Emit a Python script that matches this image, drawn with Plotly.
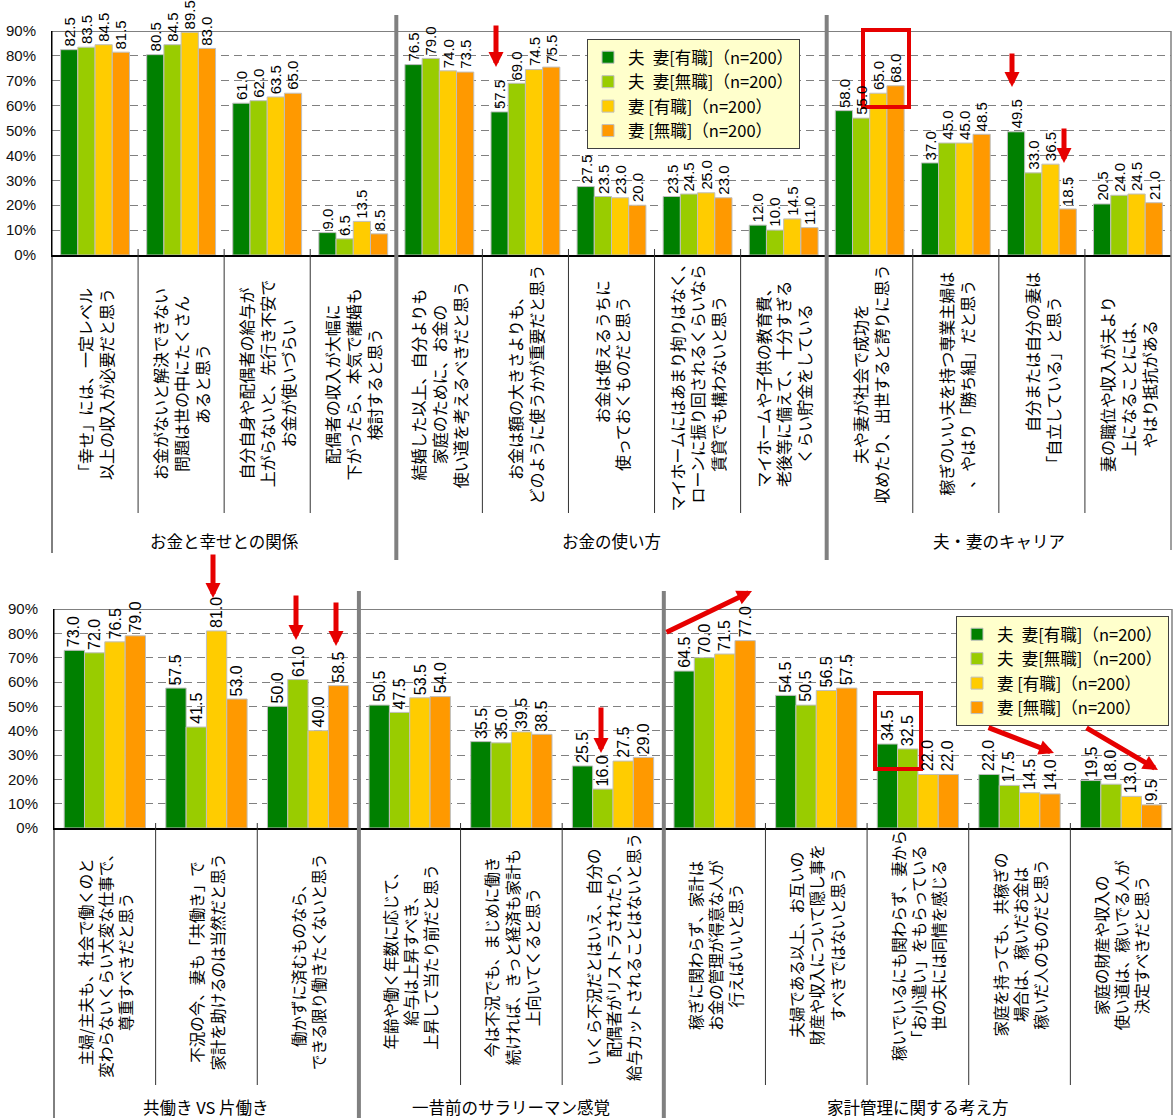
import plotly.graph_objects as go

W, H = 1175, 1118

# ---------------- data ----------------
series_names = ["夫\u2002妻[有職]（n=200）", "夫\u2002妻[無職]（n=200）",
                "妻 [有職]（n=200）", "妻 [無職]（n=200）"]
series_colors = ["#008000", "#99CC00", "#FFCC00", "#FF9900"]

top_categories = [
    "「幸せ」には、一定レベル<br>以上の収入が必要だと思う",
    "お金がないと解決できない<br>問題は世の中にたくさん<br>あると思う",
    "自分自身や配偶者の給与が<br>上がらないと、先行き不安で<br>お金が使いづらい",
    "配偶者の収入が大幅に<br>下がったら、本気で離婚も<br>検討すると思う",
    "結婚した以上、自分よりも<br>家庭のために、お金の<br>使い道を考えるべきだと思う",
    "お金は額の大きさよりも、<br>どのように使うかが重要だと思う",
    "\u3000\u3000\u3000\u3000お金は使えるうちに<br>使っておくものだと思う",
    "マイホームにはあまり拘りはなく、<br>ローンに振り回されるくらいなら<br>賃貸でも構わないと思う",
    "マイホームや子供の教育費、<br>老後等に備えて、十分すぎる<br>くらい貯金をしている",
    "夫や妻が社会で成功を<br>収めたり、出世すると誇りに思う",
    "稼ぎのいい夫を持つ専業主婦は<br>、やはり「勝ち組」だと思う",
    "\u3000\u3000\u3000\u3000自分または自分の妻は<br>「自立している」と思う",
    "妻の職位や収入が夫より<br>上になることには、<br>やはり抵抗がある",
]
top_group_names = ["お金と幸せとの関係", "お金の使い方", "夫・妻のキャリア"]
top_group_sizes = [4, 5, 4]
top_husband_working = [82.5, 80.5, 61.0, 9.0, 76.5, 57.5, 27.5, 23.5, 12.0, 58.0, 37.0, 49.5, 20.5]
top_husband_nonworking = [83.5, 84.5, 62.0, 6.5, 79.0, 69.0, 23.5, 24.5, 10.0, 55.0, 45.0, 33.0, 24.0]
top_wife_working = [84.5, 89.5, 63.5, 13.5, 74.0, 74.5, 23.0, 25.0, 14.5, 65.0, 45.0, 36.5, 24.5]
top_wife_nonworking = [81.5, 83.0, 65.0, 8.5, 73.5, 75.5, 20.0, 23.0, 11.0, 68.0, 48.5, 18.5, 21.0]

bottom_categories = [
    "主婦/主夫も、社会で働くのと<br>変わらないくらい大変な仕事で、<br>尊重すべきだと思う",
    "不況の今、妻も「共働き」で<br>家計を助けるのは当然だと思う",
    "働かずに済むものなら、<br>できる限り働きたくないと思う",
    "年齢や働く年数に応じて、<br>給与は上昇すべき、<br>上昇して当たり前だと思う",
    "今は不況でも、まじめに働き<br>続ければ、きっと経済も家計も<br>上向いてくると思う",
    "いくら不況だとはいえ、自分の<br>配偶者がリストラされたり、<br>給与カットされることはないと思う",
    "稼ぎに関わらず、家計は<br>お金の管理が得意な人が<br>行えばいいと思う",
    "夫婦である以上、お互いの<br>財産や収入について隠し事を<br>すべきではないと思う",
    "稼いでいるにも関わらず、妻から<br>「お小遣い」をもらっている<br>世の夫には同情を感じる",
    "家庭を持っても、共稼ぎの<br>場合は、稼いだお金は<br>稼いだ人のものだと思う",
    "家庭の財産や収入の<br>使い道は、稼いでる人が<br>決定すべきだと思う",
]
bottom_group_names = ["共働き VS 片働き", "一昔前のサラリーマン感覚", "家計管理に関する考え方"]
bottom_group_sizes = [3, 3, 5]
bottom_husband_working = [73.0, 57.5, 50.0, 50.5, 35.5, 25.5, 64.5, 54.5, 34.5, 22.0, 19.5]
bottom_husband_nonworking = [72.0, 41.5, 61.0, 47.5, 35.0, 16.0, 70.0, 50.5, 32.5, 17.5, 18.0]
bottom_wife_working = [76.5, 81.0, 40.0, 53.5, 39.5, 27.5, 71.5, 56.5, 22.0, 14.5, 13.0]
bottom_wife_nonworking = [79.0, 53.0, 58.5, 54.0, 38.5, 29.0, 77.0, 57.5, 22.0, 14.0, 9.5]

y_ticks = list(range(0, 91, 10))
y_tick_labels = [f"{v}%" for v in y_ticks]

# ---------------- layout helpers ----------------
def PX(x):
    return x / W


def PY(y):
    return 1 - y / H


JP = "Noto Sans CJK JP, sans-serif"
NUM = "Liberation Sans, Arial, sans-serif"
RED = "rgb(230,0,0)"
BAR_W = 0.2          # each of the 4 bars takes 20% of a category slot
GROUP_W = 4 * BAR_W

panels = [
    dict(xa="x", ya="y", legend="legend",
         cats=top_categories, groups=top_group_names, sizes=top_group_sizes,
         series=[top_husband_working, top_husband_nonworking, top_wife_working, top_wife_nonworking],
         left=52, right=1171, top=31, base=255,
         div_top=249, div_bot=513, sep_top=15, sep_bot=560, frame_bot=553,
         group_y=541, label_centers=[384, 384, 384], label_size=16, value_size=15),
    dict(xa="x2", ya="y2", legend="legend2",
         cats=bottom_categories, groups=bottom_group_names, sizes=bottom_group_sizes,
         series=[bottom_husband_working, bottom_husband_nonworking, bottom_wife_working, bottom_wife_nonworking],
         left=54, right=1172, top=609, base=828,
         div_top=823, div_bot=1085, sep_top=591, sep_bot=1118, frame_bot=1118,
         group_y=1107, label_centers=[962, 957, 945], label_size=15.5, value_size=16),
]

fig = go.Figure()
shapes = []
annotations = []
layout = {}

for p in panels:
    n = len(p["cats"])
    xs = list(range(n))
    for k, vals in enumerate(p["series"]):
        off = -GROUP_W / 2 + BAR_W * k
        fig.add_trace(go.Bar(
            x=xs, y=vals, name=series_names[k], width=BAR_W, offset=off,
            marker=dict(color=series_colors[k], line=dict(color="#BFBFBF", width=1)),
            xaxis=p["xa"], yaxis=p["ya"], legend=p["legend"],
            legendgroup=f"{p['legend']}_{k}", hoverinfo="skip",
        ))
        for i, v in enumerate(vals):
            annotations.append(dict(xref=p["xa"], yref=p["ya"], x=i + off + BAR_W / 2, y=v,
                                    text=f"{v:.1f}", textangle=-90, showarrow=False,
                                    xanchor="center", yanchor="bottom", yshift=1,
                                    font=dict(size=p["value_size"], family=NUM, color="black")))
    xkey = "xaxis" if p["xa"] == "x" else "xaxis2"
    ykey = "yaxis" if p["ya"] == "y" else "yaxis2"
    layout[xkey] = dict(domain=[PX(p["left"]), PX(p["right"])], range=[-0.5, n - 0.5],
                        showticklabels=False, ticks="", showgrid=False, zeroline=False,
                        showline=True, linecolor="black", linewidth=1.5, anchor=p["ya"],
                        fixedrange=True)
    layout[ykey] = dict(domain=[PY(p["base"]), PY(p["top"])], range=[0, 90],
                        tickmode="array", tickvals=y_ticks, ticktext=y_tick_labels, showgrid=True,
                        gridcolor="#808080", griddash="8px,5px", gridwidth=1,
                        showline=True, linecolor="black", linewidth=1, zeroline=False,
                        ticks="", ticklabelstandoff=12,
                        tickfont=dict(size=15, family=NUM, color="#111"),
                        anchor=p["xa"], fixedrange=True)
    # frame: top border, right border, left line extension
    shapes.append(dict(type="line", xref="paper", yref=p["ya"], x0=PX(p["left"]), x1=PX(p["right"]),
                       y0=90, y1=90, line=dict(color="#808080", width=2), layer="above"))
    shapes.append(dict(type="line", xref="paper", yref="paper", x0=PX(p["right"]), x1=PX(p["right"]),
                       y0=PY(p["top"]), y1=PY(p["frame_bot"] - 3), line=dict(color="#808080", width=1.5), layer="above"))
    shapes.append(dict(type="line", xref="paper", yref="paper", x0=PX(p["left"]), x1=PX(p["left"]),
                       y0=PY(p["top"]), y1=PY(p["frame_bot"]), line=dict(color="black", width=1), layer="above"))
    # separators
    bounds = []
    s = 0
    for sz in p["sizes"]:
        bounds.append((s, s + sz))
        s += sz
    group_edges = [b[1] for b in bounds[:-1]]
    for i in range(1, n):
        if i in group_edges:
            shapes.append(dict(type="line", xref=p["xa"], yref="paper", x0=i - 0.5, x1=i - 0.5,
                               y0=PY(p["sep_top"]), y1=PY(p["sep_bot"]),
                               line=dict(color="#808080", width=4), layer="above"))
        else:
            shapes.append(dict(type="line", xref=p["xa"], yref="paper", x0=i - 0.5, x1=i - 0.5,
                               y0=PY(p["div_top"]), y1=PY(p["div_bot"]),
                               line=dict(color="#333333", width=1), layer="above"))
    # category labels
    for gi, (a, b) in enumerate(bounds):
        for i in range(a, b):
            annotations.append(dict(xref=p["xa"], yref="paper", x=i, y=PY(p["label_centers"][gi]),
                                    text=p["cats"][i], textangle=-90, showarrow=False,
                                    xanchor="center", yanchor="middle", align="center",
                                    font=dict(size=p["label_size"], family=JP, color="black")))
        annotations.append(dict(xref=p["xa"], yref="paper", x=(a + b - 1) / 2, y=PY(p["group_y"]),
                                text=p["groups"][gi], showarrow=False, xanchor="center", yanchor="middle",
                                font=dict(size=16.5, family=JP, color="black")))

legend_style = dict(xanchor="left", yanchor="top", bgcolor="#FFFFCC", bordercolor="#404040",
                    borderwidth=1, font=dict(size=16.5, family=JP, color="black"),
                    traceorder="grouped", tracegroupgap=0, itemclick=False, itemdoubleclick=False)
layout["legend"] = dict(x=PX(587), y=PY(39), **legend_style)
layout["legend2"] = dict(x=PX(956), y=PY(616), **legend_style)

# ---------------- red highlights ----------------
arrows = [  # (tail_x, tail_y, tip_x, tip_y) in pixels
    (496, 24, 496, 67), (1012, 52, 1012, 87), (1064, 127, 1064, 163),
    (213, 553, 213, 598), (296, 594, 296, 640), (336, 601, 336, 646), (601, 706, 601, 753),
    (665, 633, 752, 591), (987, 727, 1054, 753), (1085, 727, 1158, 770),
]
for tx, ty, hx, hy in arrows:
    annotations.append(dict(xref="paper", yref="paper", x=PX(hx), y=PY(hy), ax=tx - hx, ay=ty - hy,
                            axref="pixel", ayref="pixel", text="", showarrow=True, arrowhead=2,
                            arrowsize=0.6, arrowwidth=5, arrowcolor=RED, standoff=0))
boxes = [(863, 30, 909, 107), (875, 693, 921, 769)]
for x0, y0, x1, y1 in boxes:
    shapes.append(dict(type="rect", xref="paper", yref="paper", x0=PX(x0), x1=PX(x1), y0=PY(y0), y1=PY(y1),
                       line=dict(color=RED, width=4), fillcolor="rgba(0,0,0,0)", layer="above"))

fig.update_layout(
    template="none", width=W, height=H, margin=dict(l=0, r=0, t=0, b=0, pad=0),
    paper_bgcolor="white", plot_bgcolor="white",
    barmode="group", bargap=0.2, bargroupgap=0,
    shapes=shapes, annotations=annotations, showlegend=True,
    **layout,
)

fig.write_html("out.html")
